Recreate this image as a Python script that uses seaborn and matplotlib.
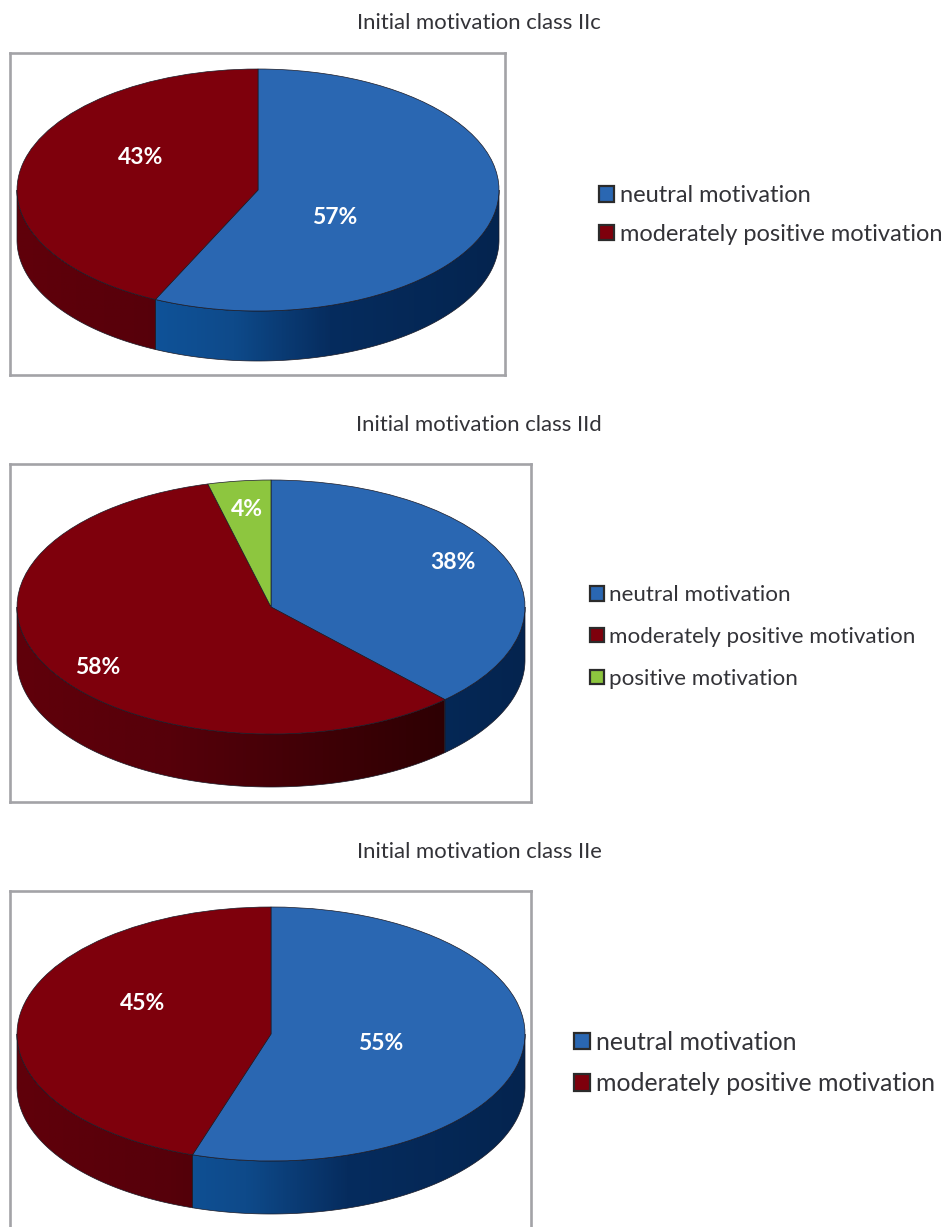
import numpy as np
import matplotlib
matplotlib.use("Agg")
import matplotlib.pyplot as plt
from matplotlib.patches import Patch, Polygon
from matplotlib.colors import LinearSegmentedColormap
import seaborn as sns

# ---------- data ----------
categories = ["neutral motivation", "moderately positive motivation", "positive motivation"]
titles = ["Initial motivation class IIc", "Initial motivation class IId", "Initial motivation class IIe"]
values_c = [57, 43]
values_d = [38, 58, 4]
values_e = [55, 45]

# ---------- style ----------
W, H = 946, 1227
sns.set_theme(style="white")
plt.rcParams["font.family"] = ["Lato", "DejaVu Sans"]
palette = sns.color_palette(["#2A67B2", "#7E000C", "#8DC63F"])
side_stops = {
    0: [(0, "#1760AC"), (0.29, "#0F5298"), (0.45, "#0E4A8A"), (0.65, "#062C5E"), (1, "#04244F")],
    1: [(0, "#60000A"), (0.3, "#56000A"), (0.6, "#3F0006"), (0.85, "#2D0003"), (1, "#2A0003")],
    2: [(0, "#5F8A28"), (0.3, "#557D22"), (0.6, "#40601A"), (1, "#2E4410")],
}
side_cmaps = {k: LinearSegmentedColormap.from_list(f"side{k}", v) for k, v in side_stops.items()}
TEXT = "#333338"
EDGE = "#1A1A26"
FRAME = "#A3A3A7"

panels = [
    dict(values=values_c, frame=(10, 53, 505, 375), center=(258, 190), rx=241, ry=121, depth=50,
         title_xy=(479, 23),
         label_xy=[(335, 217), (141, 158)],
         legend=dict(x=599, y=215, fs=17.0, spacing=0.74, hl=0.64, gap=0.25)),
    dict(values=values_d, frame=(10, 464, 531, 802), center=(271, 607), rx=254, ry=127, depth=53,
         title_xy=(479, 425),
         label_xy=[(453, 563), (98, 667), (247, 510)],
         legend=dict(x=590, y=637, fs=16.1, spacing=0.97, hl=0.63, gap=0.22)),
    dict(values=values_e, frame=(10, 891, 531, 1260), center=(271, 1034), rx=254, ry=127, depth=53,
         title_xy=(479, 852),
         label_xy=[(381, 1043), (143, 1003)],
         legend=dict(x=574, y=1063, fs=17.9, spacing=0.74, hl=0.64, gap=0.24)),
]

fig = plt.figure(figsize=(W / 100, H / 100), dpi=100, facecolor="white")


def draw_panel(p):
    x0, y0, x1, y1 = p["frame"]
    cx, cy = p["center"]
    rx, ry = p["rx"], p["ry"]
    d = p["depth"] / ry
    ax = fig.add_axes([x0 / W, 1 - y1 / H, (x1 - x0) / W, (y1 - y0) / H])
    xlim = ((x0 - cx) / rx, (x1 - cx) / rx)
    ylim = ((cy - y1) / ry, (cy - y0) / ry)

    # top face, through the library's own pie layout
    ax.pie(
        p["values"], colors=palette[: len(p["values"])], startangle=90, counterclock=False,
        radius=1, wedgeprops=dict(edgecolor=EDGE, linewidth=0.5, zorder=4),
    )

    # extruded side, with horizontal gradient
    grad = np.linspace(0, 1, 400).reshape(1, -1)
    cum = np.cumsum([0] + list(p["values"])) / sum(p["values"]) * 360
    for i in range(len(p["values"])):
        a0, a1 = max(cum[i], 90), min(cum[i + 1], 270)
        if a1 <= a0:
            continue
        th = np.radians(np.linspace(a0, a1, 200))
        xs, ys = np.sin(th), np.cos(th)
        poly = Polygon(np.r_[np.c_[xs, ys], np.c_[xs[::-1], ys[::-1] - d]], closed=True,
                       facecolor="none", edgecolor=EDGE, linewidth=0.5, zorder=3)
        ax.add_patch(poly)
        im = ax.imshow(grad, extent=(-1, 1, -1 - d, 0), aspect="auto",
                       cmap=side_cmaps[i], vmin=0, vmax=1, zorder=2, interpolation="bilinear")
        im.set_clip_path(poly)

    ax.set_xlim(*xlim)
    ax.set_ylim(*ylim)
    ax.set_aspect("auto")
    ax.set_frame_on(True)
    for s in ax.spines.values():
        s.set_visible(True)
        s.set_color(FRAME)
        s.set_linewidth(1.9)
    ax.set_xticks([])
    ax.set_yticks([])

    # percentage labels
    for v, (lx, ly) in zip(p["values"], p["label_xy"]):
        fig.text(lx / W, 1 - ly / H, f"{v}%", color="white", fontweight="bold",
                 fontsize=16.5, ha="center", va="center", zorder=10)


for p, title in zip(panels, titles):
    draw_panel(p)
    fig.text(p["title_xy"][0] / W, 1 - p["title_xy"][1] / H, title, ha="center", va="center",
             fontsize=15.9, color=TEXT)
    n = len(p["values"])
    handles = [Patch(facecolor=palette[i], edgecolor="#2B2B2B", linewidth=1.6) for i in range(n)]
    lg = p["legend"]
    fig.legend(handles, categories[:n], loc="center left",
               bbox_to_anchor=(lg["x"] / W, 1 - lg["y"] / H), frameon=False,
               fontsize=lg["fs"], labelcolor=TEXT, labelspacing=lg["spacing"],
               handlelength=lg["hl"], handleheight=lg["hl"], handletextpad=lg["gap"],
               borderpad=0, borderaxespad=0)

fig.savefig("out.png", dpi=100)
